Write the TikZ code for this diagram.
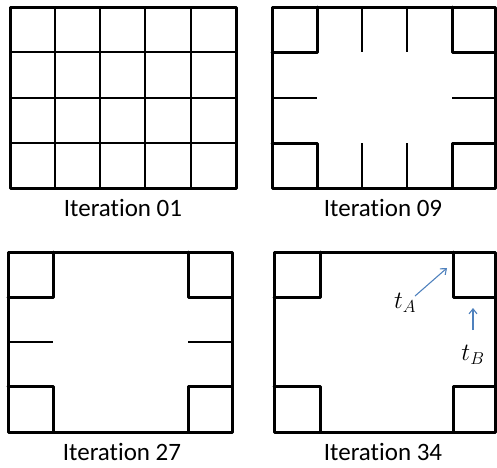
\documentclass[tikz,border=0pt]{standalone}
\usepackage{fontspec}
\setmainfont{Carlito}[Ligatures=NoCommon]
\usetikzlibrary{arrows.meta}
\definecolor{tipblue}{HTML}{4F81BD}
\begin{document}
\begin{tikzpicture}[x=1pt,y=-1pt,
  wall/.style={line width=3pt,line join=round,line cap=round},
  thinwall/.style={line width=1.8pt,line cap=butt},
  caption/.style={anchor=base,inner sep=0pt,font=\fontsize{25}{29}\selectfont},
  tlabel/.style={inner sep=0pt,text=black,font=\fontsize{24}{28}\selectfont},
  pointer/.style={tipblue,line width=1.1pt,-{Straight Barb[length=5pt,width=8pt]}}]
\useasboundingbox (0,0) rectangle (497,467);

% ---- Iteration 01: full 5x4 grid ----
\foreach \x in {55,100,145,191} \draw[thinwall] (\x,7) -- (\x,188);
\foreach \y in {52,98,143} \draw[thinwall] (10,\y) -- (236,\y);
\draw[wall] (10,7) rectangle (236,188);
\node[caption] (cap1) at (123,216) {Iteration 01};

% ---- Iteration 09 ----
\foreach \x in {362,407} {
  \draw[thinwall] (\x,7) -- (\x,52);
  \draw[thinwall] (\x,143) -- (\x,188);
}
\draw[thinwall] (272,98) -- (317,98);
\draw[thinwall] (452,98) -- (495,98);
\draw[wall] (317,7) -- (317,52) -- (272,52);
\draw[wall] (452,7) -- (452,52) -- (495,52);
\draw[wall] (272,143) -- (317,143) -- (317,188);
\draw[wall] (495,143) -- (452,143) -- (452,188);
\draw[wall] (272,7) rectangle (495,188);
\node[caption] (cap2) at (383,216) {Iteration 09};

% ---- Iteration 27 ----
\draw[thinwall] (8,342) -- (53,342);
\draw[thinwall] (188,342) -- (232,342);
\draw[wall] (53,252) -- (53,297) -- (8,297);
\draw[wall] (188,252) -- (188,297) -- (232,297);
\draw[wall] (8,386) -- (53,386) -- (53,432);
\draw[wall] (232,386) -- (188,386) -- (188,432);
\draw[wall] (8,252) rectangle (232,432);
\node[caption] (cap3) at (122,460) {Iteration 27};

% ---- Iteration 34 ----
\draw[wall] (320,252) -- (320,297) -- (274,297);
\draw[wall] (453,252) -- (453,297) -- (495,297);
\draw[wall] (274,386) -- (320,386) -- (320,432);
\draw[wall] (495,386) -- (453,386) -- (453,432);
\draw[wall] (274,252) rectangle (495,432);
\node[caption] (cap4) at (383,460) {Iteration 34};

% thresholds
\node[tlabel] (tA) at (405,303) {$t_A$};
\node[tlabel] (tB) at (473,355) {$t_B$};
\coordinate (tAtail) at (415,296);
\coordinate (tAhead) at (447,268);
\coordinate (tBtail) at (473,330);
\coordinate (tBhead) at (473,308);
\draw[pointer] (tAtail) -- (tAhead);
\draw[pointer] (tBtail) -- (tBhead);
\end{tikzpicture}
\end{document}
